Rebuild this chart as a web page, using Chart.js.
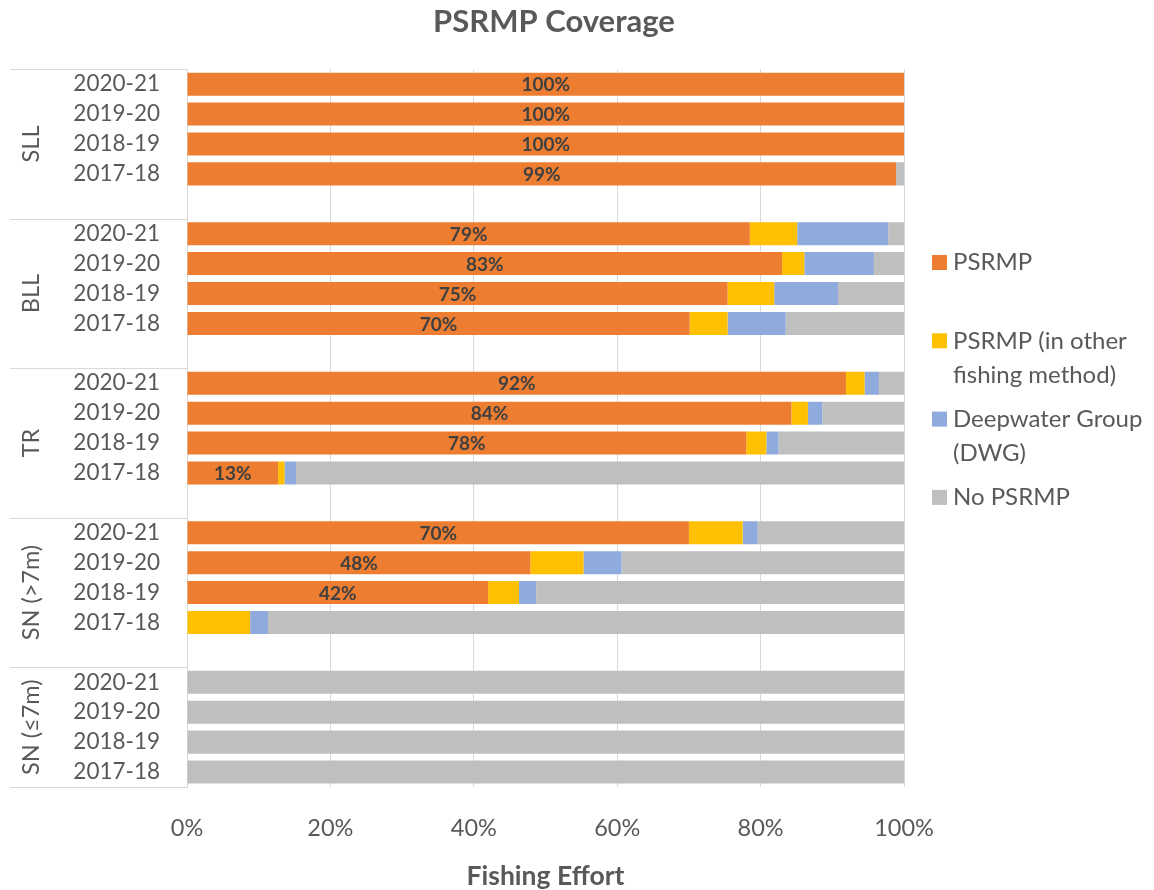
<!DOCTYPE html>
<html>
<head>
<meta charset="utf-8">
<script src="https://cdn.jsdelivr.net/npm/chart.js@4.4.0/dist/chart.umd.min.js"></script>
<style>
  html, body { margin: 0; padding: 0; background: #ffffff; }
  #wrap { width: 1154px; height: 890px; position: relative; }
</style>
</head>
<body>
<div id="wrap"><canvas id="c" width="1154" height="890"></canvas></div>
<script>
// Fishery groups (outer axis level) and financial years (inner level), top to bottom
const groups = ['SLL', 'BLL', 'TR', 'SN (>7m)', 'SN (≤7m)'];
const years = ['2020-21', '2019-20', '2018-19', '2017-18'];
const seriesNames = ['PSRMP', 'PSRMP (in other fishing method)', 'Deepwater Group (DWG)', 'No PSRMP'];
const xTicks = [0, 20, 40, 60, 80, 100];

// Share of fishing effort (%), one row per group, years in the order above
const psrmp       = [[100, 100, 100, 98.9], [78.5, 83.0, 75.4, 70.1], [91.9, 84.3, 78.0, 12.7], [70.0, 47.9, 42.0, 0], [0, 0, 0, 0]];
const otherMethod = [[0, 0, 0, 0], [6.6, 3.1, 6.5, 5.3], [2.6, 2.3, 2.8, 0.9], [7.5, 7.4, 4.3, 8.8], [0, 0, 0, 0]];
const dwg         = [[0, 0, 0, 0], [12.7, 9.7, 8.9, 8.1], [2.0, 2.0, 1.7, 1.6], [2.1, 5.3, 2.4, 2.5], [0, 0, 0, 0]];
const noPsrmp     = [[0, 0, 0, 1.1], [2.2, 4.2, 9.2, 16.5], [3.5, 11.4, 17.5, 84.8], [20.4, 39.4, 51.3, 88.7], [100, 100, 100, 100]];

const seriesColors = ['#ED7D31', '#FFC000', '#8FAADC', '#BFBFBF'];
const textColor = '#595959';
const lineColor = '#D9D9D9';
const FONT = 'Lato, "Open Sans", sans-serif';

// Flatten into rows: each group's years followed by an empty spacer row (except after the last group)
const rowLabels = [];
const groupSizes = [];
function flatten(series) {
  const out = [];
  series.forEach((vals, gi) => {
    vals.forEach(v => out.push(v));
    if (gi < groups.length - 1) out.push(null);
  });
  return out;
}
groups.forEach((g, gi) => {
  years.forEach(y => rowLabels.push(y));
  if (gi < groups.length - 1) { rowLabels.push(''); groupSizes.push(years.length + 1); }
  else groupSizes.push(years.length);
});
const seriesData = [psrmp, otherMethod, dwg, noPsrmp].map(flatten);

// Outer category labels and separator lines on the left of the plot
const groupAxisPlugin = {
  id: 'groupAxis',
  afterDraw(chart) {
    const { ctx, chartArea, scales: { y } } = chart;
    const half = (y.getPixelForValue(1) - y.getPixelForValue(0)) / 2;
    ctx.save();
    ctx.strokeStyle = lineColor;
    ctx.lineWidth = 1;
    let start = 0;
    groupSizes.forEach((n, gi) => {
      const top = y.getPixelForValue(start) - half;
      const bottom = y.getPixelForValue(start + n - 1) + half;
      const lines = gi === groupSizes.length - 1 ? [top, bottom] : [top];
      lines.forEach(py => {
        const yy = Math.round(py) + 0.5;
        ctx.beginPath();
        ctx.moveTo(10, yy);
        ctx.lineTo(chartArea.left, yy);
        ctx.stroke();
      });
      ctx.save();
      ctx.translate(31, (top + bottom) / 2);
      ctx.rotate(-Math.PI / 2);
      ctx.fillStyle = textColor;
      ctx.font = '23.5px ' + FONT;
      ctx.textAlign = 'center';
      ctx.textBaseline = 'middle';
      ctx.fillText(groups[gi], 0, 0);
      ctx.restore();
      start += n;
    });
    ctx.restore();
  }
};

// Percentage labels inside the PSRMP bars
const valueLabelPlugin = {
  id: 'valueLabels',
  afterDatasetsDraw(chart) {
    const { ctx } = chart;
    const meta = chart.getDatasetMeta(0);
    const vals = chart.data.datasets[0].data;
    ctx.save();
    ctx.fillStyle = '#404040';
    ctx.font = 'bold 19px ' + FONT;
    ctx.textAlign = 'center';
    ctx.textBaseline = 'middle';
    meta.data.forEach((bar, i) => {
      const v = vals[i];
      if (!v) return;
      ctx.fillText(Math.round(v) + '%', (bar.x + bar.base) / 2, bar.y + 1);
    });
    ctx.restore();
  }
};

// Legend to the right of the plot, with wrapped entry text
const sideLegendPlugin = {
  id: 'sideLegend',
  afterDraw(chart) {
    const { ctx } = chart;
    const opts = chart.options.plugins.sideLegend;
    ctx.save();
    ctx.font = '24px ' + FONT;
    ctx.textBaseline = 'middle';
    chart.data.datasets.forEach((ds, i) => {
      const y0 = opts.top + i * opts.pitch;
      ctx.fillStyle = ds.backgroundColor;
      ctx.fillRect(opts.left, y0 - opts.box / 2, opts.box, opts.box);
      // word wrap
      const words = ds.label.split(' ');
      const lines = [];
      let cur = '';
      words.forEach(w => {
        const test = cur ? cur + ' ' + w : w;
        if (cur && ctx.measureText(test).width > opts.maxWidth) { lines.push(cur); cur = w; }
        else cur = test;
      });
      if (cur) lines.push(cur);
      ctx.fillStyle = textColor;
      lines.forEach((ln, li) => ctx.fillText(ln, opts.left + 21, y0 + li * opts.lineHeight));
    });
    ctx.restore();
  }
};

Chart.defaults.font.family = FONT;

new Chart(document.getElementById('c'), {
  type: 'bar',
  data: {
    labels: rowLabels,
    datasets: seriesNames.map((name, i) => ({
      label: name,
      data: seriesData[i],
      backgroundColor: seriesColors[i],
      borderWidth: 0,
      barPercentage: 0.77,
      categoryPercentage: 1.0
    }))
  },
  options: {
    responsive: false,
    animation: false,
    indexAxis: 'y',
    layout: { padding: { left: 0, right: 46, top: 0, bottom: 0 } },
    plugins: {
      legend: { display: false },
      tooltip: { enabled: false },
      title: {
        display: true,
        text: 'PSRMP Coverage',
        color: textColor,
        font: { size: 31, weight: 'bold', family: FONT, lineHeight: 1.2 },
        padding: { top: 3, bottom: 29 }
      },
      sideLegend: { left: 932, top: 262.5, pitch: 78.3, lineHeight: 34, maxWidth: 205, box: 15 }
    },
    scales: {
      x: {
        stacked: true,
        min: 0,
        max: 100,
        afterBuildTicks(s) { s.ticks = xTicks.map(v => ({ value: v })); },
        afterFit(s) { s.height = 103; },
        ticks: { callback: v => v + '%', color: textColor, font: { size: 23.5 }, padding: 27 },
        grid: { color: lineColor, drawTicks: false },
        border: { display: false },
        title: {
          display: true,
          text: 'Fishing Effort',
          color: textColor,
          font: { size: 26.5, weight: 'bold', lineHeight: 1 },
          padding: { top: 0, bottom: 0 }
        }
      },
      y: {
        stacked: true,
        afterFit(s) { s.width = 187; },
        grid: { display: false, drawTicks: false },
        border: { color: lineColor },
        ticks: { autoSkip: false, color: textColor, font: { size: 22.5 }, padding: 27 }
      },
      // empty right-hand axis that reserves the space used by the legend
      legendSpace: {
        axis: 'y',
        type: 'category',
        position: 'right',
        afterFit(s) { s.width = 204; },
        grid: { display: false, drawTicks: false },
        border: { display: false },
        ticks: { display: false }
      }
    }
  },
  plugins: [groupAxisPlugin, valueLabelPlugin, sideLegendPlugin]
});
</script>
</body>
</html>
